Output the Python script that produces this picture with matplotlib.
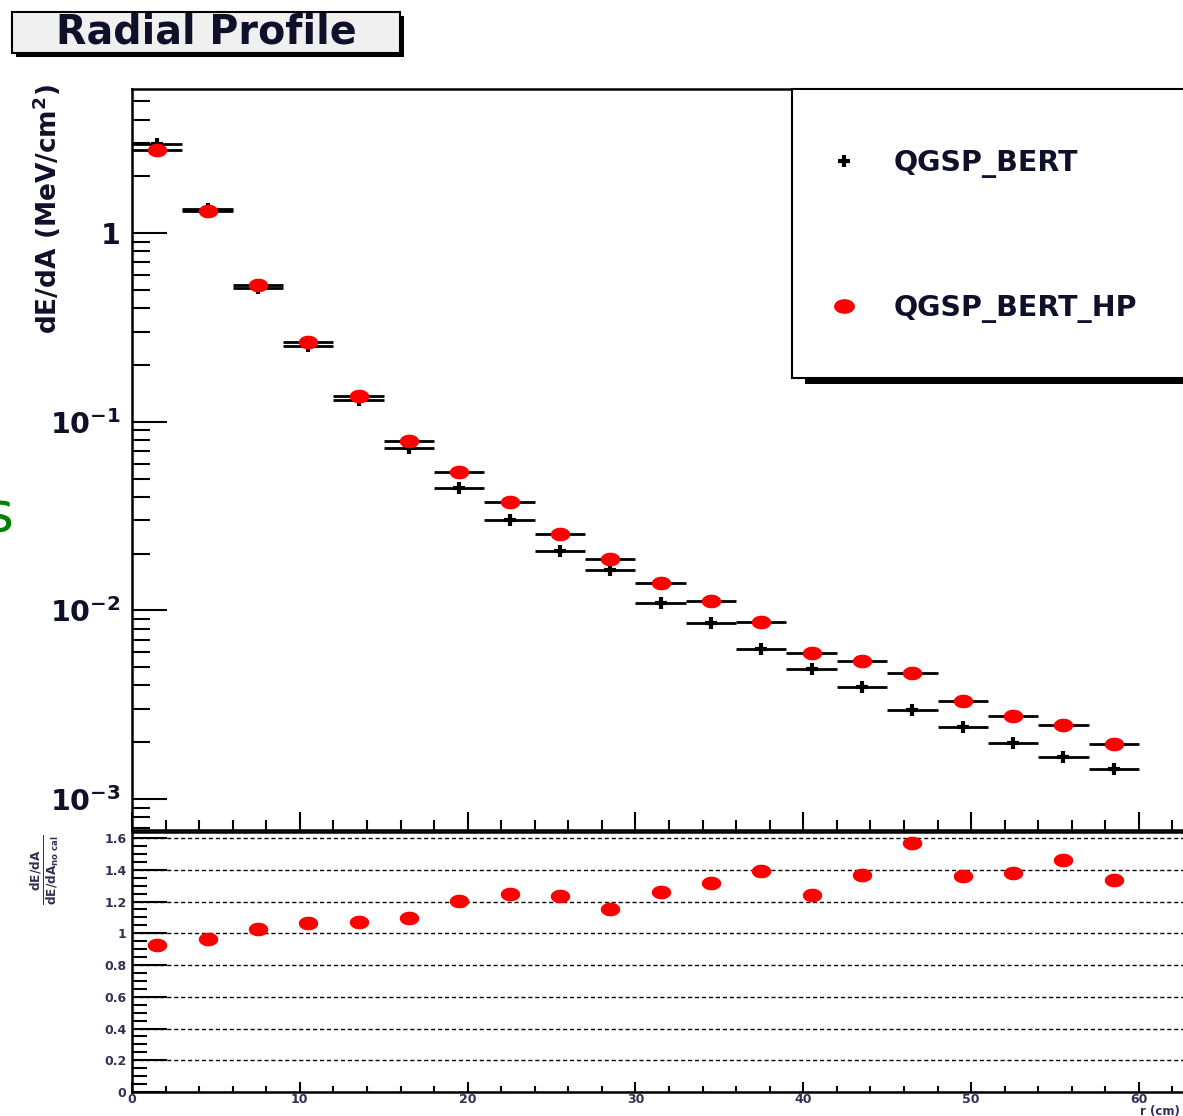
import numpy as np
import matplotlib
matplotlib.use('Agg')
import matplotlib.pyplot as plt
from matplotlib.patches import Rectangle
from matplotlib.lines import Line2D
from matplotlib.ticker import FixedLocator, MultipleLocator, LogLocator, NullFormatter, FuncFormatter

plt.rcParams['font.family'] = 'DejaVu Sans'
plt.rcParams['font.weight'] = 'bold'
plt.rcParams['mathtext.fontset'] = 'custom'
plt.rcParams['mathtext.rm'] = 'DejaVu Sans:bold'
plt.rcParams['mathtext.it'] = 'DejaVu Sans:bold'
plt.rcParams['mathtext.bf'] = 'DejaVu Sans:bold'

# radial bins (cm), 3 cm wide
r_centres = [1.5, 4.5, 7.5, 10.5, 13.5, 16.5, 19.5, 22.5, 25.5, 28.5,
             31.5, 34.5, 37.5, 40.5, 43.5, 46.5, 49.5, 52.5, 55.5, 58.5]
half_bin = 1.5

# dE/dA (MeV/cm^2)
qgsp_bert = [2.97, 1.34, 0.515, 0.252, 0.130, 0.0723, 0.0444, 0.0300, 0.0206, 0.0163,
             0.0110, 0.00853, 0.00621, 0.00486, 0.00391, 0.00295, 0.00240, 0.00197,
             0.00166, 0.00145]
qgsp_bert_hp = [2.76, 1.31, 0.530, 0.264, 0.137, 0.0788, 0.0540, 0.0374, 0.0253, 0.0187,
                0.0139, 0.01116, 0.00863, 0.00598, 0.00536, 0.00463, 0.00329, 0.00274,
                0.00248, 0.00195]
ratio = [0.927, 0.965, 1.028, 1.066, 1.072, 1.097, 1.204, 1.248, 1.236, 1.154,
         1.261, 1.318, 1.393, 1.242, 1.368, 1.570, 1.362, 1.381, 1.463, 1.337]

labels = ['QGSP_BERT', 'QGSP_BERT_HP']
W, H = 1183, 1116

def fx(px):
    return px / W

def fy(py):
    return 1 - py / H

# slightly flattened dot (the original picture is stretched sideways)
t = np.linspace(0, 2 * np.pi, 41)
dot = list(zip(np.cos(t), 0.68 * np.sin(t)))

fig = plt.figure(figsize=(W / 100, H / 100), dpi=100)
fig.patch.set_facecolor('white')

x_left, x_right = 132, 1206
ax = fig.add_axes([fx(x_left), fy(830), (x_right - x_left) / W, (830 - 89) / H])
ax2 = fig.add_axes([fx(x_left), fy(1092), (x_right - x_left) / W, (1092 - 832) / H])

for a in (ax, ax2):
    for s in a.spines.values():
        s.set_linewidth(1.8)
    a.set_xlim(0, 64)
    a.xaxis.set_major_locator(MultipleLocator(10))
    a.xaxis.set_minor_locator(MultipleLocator(2))

# upper panel
ax.errorbar(r_centres, qgsp_bert, xerr=half_bin, ls='none', marker='+', color='k',
            ms=9, mew=3, elinewidth=2, capsize=0, zorder=3)
ax.errorbar(r_centres, qgsp_bert_hp, xerr=half_bin, ls='none', marker=dot, mfc='red',
            mec='red', ms=13, ecolor='k', elinewidth=2, capsize=0, zorder=4)
ax.set_yscale('log')
ax.set_ylim(6.85e-4, 5.81)
ax.yaxis.set_major_locator(FixedLocator([1e-3, 1e-2, 1e-1, 1]))
ax.yaxis.set_major_formatter(FuncFormatter(
    lambda v, p: '1' if v == 1 else r'$10^{%d}$' % round(np.log10(v))))
ax.yaxis.set_minor_locator(LogLocator(base=10, subs=np.arange(2, 10), numticks=20))
ax.yaxis.set_minor_formatter(NullFormatter())
ax.tick_params(axis='y', which='major', direction='in', length=25, width=1.5,
               labelsize=20.5, pad=8, labelcolor='#10102a')
ax.tick_params(axis='y', which='minor', direction='in', length=13, width=1.5)
ax.tick_params(axis='x', which='major', direction='in', length=13, width=1.5, labelbottom=False)
ax.tick_params(axis='x', which='minor', direction='in', length=7, width=1.5)

# ratio panel
ax2.plot(r_centres, ratio, ls='none', marker=dot, color='red', ms=13)
ax2.set_ylim(0, 1.638)
ax2.yaxis.set_major_locator(MultipleLocator(0.2))
ax2.yaxis.set_minor_locator(MultipleLocator(0.05))
ax2.yaxis.set_major_formatter(FuncFormatter(lambda v, p: '%g' % round(v, 2)))
ax2.xaxis.set_major_formatter(FuncFormatter(lambda v, p: '%g' % v))
ax2.yaxis.grid(True, which='major', color='k', lw=1, ls=(0, (3, 2)))
ax2.tick_params(axis='y', which='major', direction='in', length=25, width=1.5,
                labelsize=9, pad=4, labelcolor='#303055')
ax2.tick_params(axis='y', which='minor', direction='in', length=11, width=1.5)
ax2.tick_params(axis='x', which='major', direction='in', length=7, width=1.5,
                labelsize=9, pad=1, labelcolor='#303055')
ax2.tick_params(axis='x', which='minor', direction='in', length=4, width=1.5)

# axis titles
fig.text(fx(47), fy(209), 'dE/dA (MeV/cm$^{2}$)', rotation=90, ha='center', va='center',
         fontsize=19, color='#10102a')
fig.text(fx(45), fy(870), r'$\frac{dE/dA}{dE/dA_{no\ cal}}$', rotation=90, ha='center',
         va='center', fontsize=12.5, color='#303055')
fig.text(fx(1140), fy(1112), 'r (cm)', ha='left', va='center', fontsize=8.5, color='#303055')

# title box with shadow
fig.patches.append(Rectangle((fx(16), fy(57)), 388 / W, 41 / H, transform=fig.transFigure,
                             fc='k', ec='none', zorder=1))
fig.patches.append(Rectangle((fx(12), fy(53)), 388 / W, 41 / H, transform=fig.transFigure,
                             fc='#f0f0f0', ec='k', lw=1.5, zorder=2))
fig.text(fx(206), fy(33), 'Radial Profile', ha='center', va='center', fontsize=28.5,
         color='#10102a', zorder=3)

# legend box with shadow
fig.patches.append(Rectangle((fx(805), fy(384)), 500 / W, 6 / H, transform=fig.transFigure,
                             fc='k', ec='none', zorder=1))
fig.patches.append(Rectangle((fx(792), fy(378)), 500 / W, (378 - 89) / H,
                             transform=fig.transFigure, fc='white', ec='k', lw=1.5, zorder=2))
handles = [Line2D([], [], ls='none', marker='+', color='k', ms=9, mew=3),
           Line2D([], [], ls='none', marker=dot, color='red', ms=14)]
fig.legend(handles, labels, loc='upper left', bbox_to_anchor=(fx(816), fy(149)),
           bbox_transform=fig.transFigure, frameon=False, borderpad=0, borderaxespad=0,
           handlelength=2, handletextpad=0.72, labelspacing=4.06,
           prop={'size': 20.5, 'weight': 'bold'}, labelcolor='#10102a')

# stray letter cut off at the left edge
fig.text(fx(14), fy(516), 's', ha='right', va='center', fontsize=40, color='#008000',
         fontweight='normal')

plt.savefig('out.png', dpi=100)
